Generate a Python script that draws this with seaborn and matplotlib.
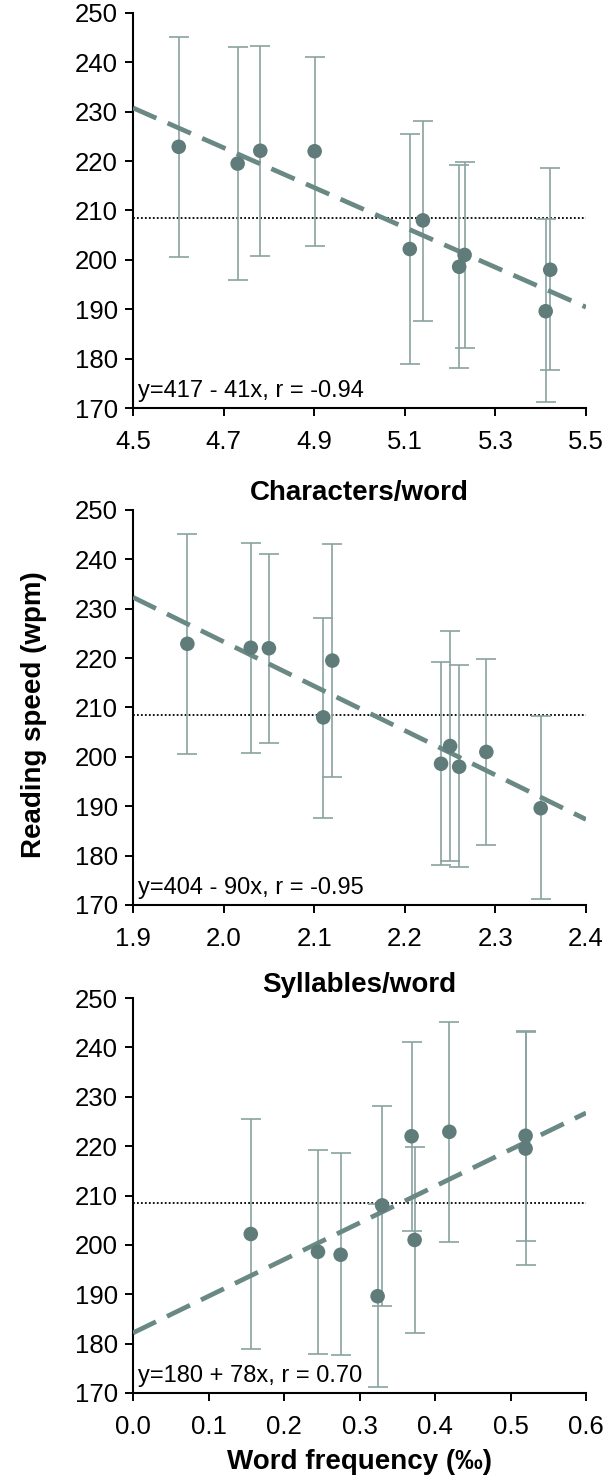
import numpy as np
import pandas as pd
import matplotlib
matplotlib.use("Agg")
import matplotlib.pyplot as plt
import seaborn as sns

# ---- data (10 conditions) ----
chars_per_word = [4.601, 4.731, 4.781, 4.901, 5.111, 5.140, 5.220, 5.232, 5.411, 5.421]
syllables_per_word = [1.960, 2.120, 2.030, 2.050, 2.250, 2.110, 2.240, 2.290, 2.350, 2.260]
word_freq = [0.419, 0.520, 0.520, 0.369, 0.156, 0.330, 0.245, 0.373, 0.324, 0.275]
speed = [222.9, 219.5, 222.1, 222.0, 202.2, 208.0, 198.6, 201.0, 189.6, 198.0]
ci_low = [200.6, 196.0, 200.8, 202.9, 178.9, 187.7, 178.0, 182.2, 171.3, 177.7]
ci_high = [245.1, 243.1, 243.4, 241.1, 225.5, 228.1, 219.2, 219.8, 208.2, 218.7]

x_labels = ["Characters/word", "Syllables/word", "Word frequency (‰)"]
fit_texts = ["y=417 - 41x, r = -0.94", "y=404 - 90x, r = -0.95", "y=180 + 78x, r = 0.70"]
y_ticks = [170, 180, 190, 200, 210, 220, 230, 240, 250]
x_ticks_1 = [4.5, 4.7, 4.9, 5.1, 5.3, 5.5]
x_ticks_2 = [1.9, 2.0, 2.1, 2.2, 2.3, 2.4]
x_ticks_3 = [0.0, 0.1, 0.2, 0.3, 0.4, 0.5, 0.6]

df = pd.DataFrame({
    "chars": chars_per_word, "syl": syllables_per_word, "freq": word_freq,
    "speed": speed, "lo": ci_low, "hi": ci_high,
})

sns.set_style("ticks")
plt.rcParams["font.family"] = ["Liberation Sans", "DejaVu Sans"]
plt.rcParams["text.color"] = "black"

W, H = 603, 1476
fig = plt.figure(figsize=(W / 100, H / 100), dpi=100)

point_col = "#5f7c7a"
err_col = "#8aa3a0"
line_col = "#6a8985"

panels = [
    ("chars", x_ticks_1, 13, 408, 500),
    ("syl", x_ticks_2, 510, 905, 992),
    ("freq", x_ticks_3, 998, 1393, 1469),
]
left, right = 133, 586
mean_speed = float(np.mean(speed))

for i, (col, xt, top, bot, label_base) in enumerate(panels):
    ax = fig.add_axes([left / W, 1 - bot / H, (right - left) / W, (bot - top) / H])
    ax.set_xlim(xt[0], xt[-1])
    ax.set_ylim(170, 250)
    # mean line
    ax.axhline(mean_speed, color="black", lw=1.3, ls=(0, (1, 1.2)), zorder=1)
    # error bars
    yerr = np.vstack([df["speed"] - df["lo"], df["hi"] - df["speed"]])
    ax.errorbar(df[col], df["speed"], yerr=yerr, fmt="none", ecolor=err_col,
                elinewidth=1.2, capsize=7.5, capthick=1.2, zorder=2)
    # regression line
    sns.regplot(data=df, x=col, y="speed", ax=ax, scatter=False, ci=None, truncate=False,
                line_kws=dict(color=line_col, lw=3.4, dashes=(5.4, 2.6), zorder=3))
    # points
    sns.scatterplot(data=df, x=col, y="speed", ax=ax, color=point_col, s=110,
                    edgecolor="none", zorder=4)
    ax.set_xlim(xt[0], xt[-1])
    ax.set_ylim(170, 250)
    ax.set_xticks(xt)
    ax.set_xticklabels(["%.1f" % v for v in xt])
    ax.set_yticks(y_ticks)
    ax.set_ylabel("")
    ax.set_xlabel(x_labels[i], fontsize=20, fontweight="bold", color="black",
                  va="baseline")
    ax.xaxis.set_label_coords(0.5, (bot - label_base) / (bot - top))
    for s in ["top", "right"]:
        ax.spines[s].set_visible(False)
    for s in ["left", "bottom"]:
        ax.spines[s].set_linewidth(1.5)
        ax.spines[s].set_color("black")
    ax.tick_params(axis="both", direction="out", length=6, width=1.4,
                   labelsize=18.5, colors="black")
    ax.tick_params(axis="y", pad=5)
    ax.tick_params(axis="x", pad=10)
    ax.text(0.012, 0.028, fit_texts[i], transform=ax.transAxes, fontsize=17,
            va="baseline", ha="left", color="black")

fig.text(34 / W, 1 - 715 / H, "Reading speed (wpm)", rotation=90, fontsize=20,
         fontweight="bold", ha="center", va="center", color="black")

fig.savefig("out.png", dpi=100)
